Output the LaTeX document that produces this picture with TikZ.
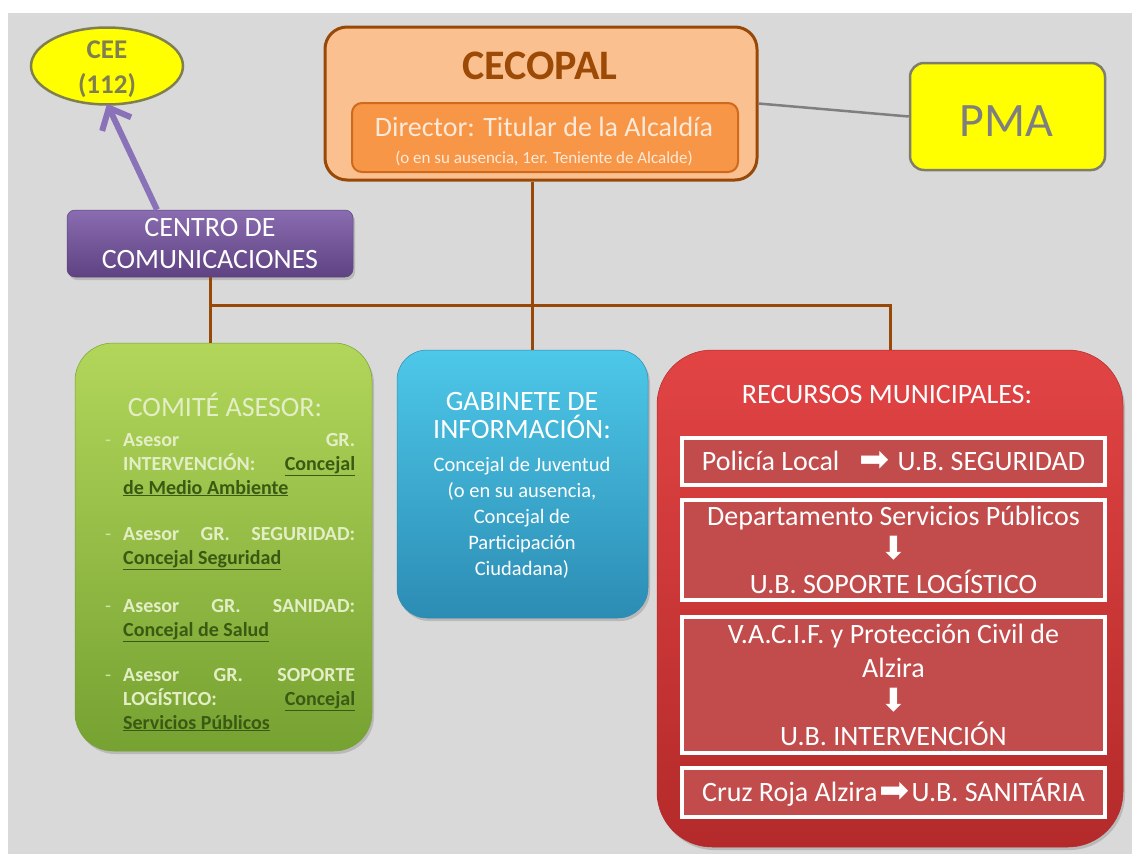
\documentclass[tikz,border=0pt]{standalone}
\usepackage{fontspec}
\setmainfont{Carlito}
\newfontfamily\dejavu{DejaVu Sans}
\usetikzlibrary{shadows,arrows.meta,shapes.geometric}
\newcommand\setfs[2]{\fontsize{#1}{#2}\selectfont}
\definecolor{bg}{HTML}{D9D9D9}
\definecolor{ceco}{HTML}{FAC090}
\definecolor{cecob}{HTML}{984807}
\definecolor{cecot}{HTML}{9C4A06}
\definecolor{dir}{HTML}{F79646}
\definecolor{dirb}{HTML}{CF6A1C}
\definecolor{dirt}{HTML}{FDE9D9}
\definecolor{ylw}{HTML}{FFFF00}
\definecolor{grayt}{HTML}{7F7F7F}
\definecolor{pmab}{HTML}{807E6A}
\definecolor{olive}{HTML}{7F7F50}
\definecolor{purpt}{HTML}{8A6CB0}
\definecolor{purpd}{HTML}{5E4282}
\definecolor{purpa}{HTML}{8A72B8}
\definecolor{gtop}{HTML}{B2D65A}
\definecolor{gbot}{HTML}{76A232}
\definecolor{gtext}{HTML}{E4EEC6}
\definecolor{gdash}{HTML}{D2E2A6}
\definecolor{gdark}{HTML}{3A5A14}
\definecolor{btop}{HTML}{4DC8E8}
\definecolor{bbot}{HTML}{2C8CB4}
\definecolor{rtop}{HTML}{E24444}
\definecolor{rbot}{HTML}{B42A2A}
\definecolor{rin}{HTML}{C24C4C}
\tikzset{
  shad/.style={drop shadow={opacity=0.35,shadow xshift=2pt,shadow yshift=-3pt}},
  conn/.style={draw=cecob,line width=3pt},
  greenitem/.style={anchor=base west,inner sep=0pt,text=gtext,font=\bfseries\setfs{20}{24}},
  gdashnode/.style={anchor=base west,inner sep=0pt,text=gdash,font=\setfs{20}{24}},
  inbox/.style={draw=white,line width=3.5pt,fill=rin,text=white,align=center,font=\setfs{28}{34},inner sep=0pt},
}
\newcommand\ul[1]{\textcolor{gdark}{\underline{#1}}}
\newcommand\rarr{\raisebox{-1pt}{\dejavu\fontsize{36}{36}\selectfont ➡}}
\newcommand\darr{{\dejavu\fontsize{32}{32}\selectfont ⬇}}
\begin{document}
\begin{tikzpicture}[x=1pt,y=-1pt]
\useasboundingbox (0,0) rectangle (1132,854);
\fill[white] (0,0) rectangle (1132,854);
\fill[bg] (8,13) rectangle (1132,854);

% CEE ellipse
\node[ellipse,draw=olive,line width=2.5pt,fill=ylw,minimum width=152pt,minimum height=77pt,inner sep=0pt] (cee) at (107,66) {};
\node[text=olive,align=center,font=\bfseries\setfs{27}{35},inner sep=0pt] (ceetxt) at (107,69) {CEE\\(112)};

% Centro de comunicaciones
\node[rounded corners=8pt,top color=purpt,bottom color=purpd,draw=purpd,line width=0.5pt,shad,
      minimum width=286pt,minimum height=67pt,inner sep=0pt,text=white,align=center,font=\setfs{28}{32}]
      (centro) at (210,243.5) {CENTRO DE\\COMUNICACIONES};
\draw[purpa,line width=6pt,-{Straight Barb[length=18pt,width=32pt,line width=6pt]}]
      ([xshift=-53pt]centro.north) -- ([yshift=2pt]cee.south);

% CECOPAL
\node[rounded corners=22pt,draw=cecob,line width=3pt,fill=ceco,minimum width=432pt,minimum height=153pt,inner sep=0pt]
      (cecopal) at (541,103.5) {};
\node[text=cecot,font=\bfseries\setfs{42}{46},inner sep=0pt] (cecotitle) at (540,66) {CECOPAL};
\node[rounded corners=10pt,draw=dirb,line width=2pt,fill=dir,minimum width=386pt,minimum height=69pt,inner sep=0pt]
      (director) at (545,137.5) {};
\node[text=dirt,font=\setfs{28}{32},inner sep=0pt] (dirtxt) at (544,127) {Director: Titular de la Alcaldía};
\node[text=dirt,font=\setfs{17}{20},inner sep=0pt] (dirsub) at (544,158) {(o en su ausencia, 1er. Teniente de Alcalde)};

% PMA
\node[rounded corners=14pt,draw=pmab,line width=2.5pt,fill=ylw,minimum width=195pt,minimum height=107pt,inner sep=0pt]
      (pma) at (1007.5,116.5) {};
\node[text=grayt,font=\setfs{48}{52},inner sep=0pt] (pmatxt) at (1006,121) {PMA};
\draw[grayt,line width=2.5pt] (cecopal.east) -- (pma.west);

% Comité asesor
\node[rounded corners=38pt,top color=gtop,bottom color=gbot,draw=gbot,line width=0.5pt,shad,
      minimum width=297pt,minimum height=408pt,inner sep=0pt] (comite) at (223.5,547) {};
\node[text=gtext,font=\setfs{28}{32},inner sep=0pt] (comtitle) at (225,405) {COMITÉ ASESOR:};
\node[gdashnode] (d1) at (105,446) {-};
\node[gdashnode] (d2) at (105,540) {-};
\node[gdashnode] (d3) at (105,612) {-};
\node[gdashnode] (d4) at (105,681) {-};
\node[greenitem] (i1) at (123,446) {\makebox[232pt][s]{Asesor GR.}};
\node[greenitem] (i2) at (123,470) {\makebox[232pt][s]{INTERVENCIÓN: \ul{Concejal}}};
\node[greenitem] (i3) at (123,494) {\ul{de Medio Ambiente}};
\node[greenitem] (i4) at (123,540) {\makebox[232pt][s]{Asesor GR. SEGURIDAD:}};
\node[greenitem] (i5) at (123,564) {\ul{Concejal Seguridad}};
\node[greenitem] (i6) at (123,612) {\makebox[232pt][s]{Asesor GR. SANIDAD:}};
\node[greenitem] (i7) at (123,636) {\ul{Concejal de Salud}};
\node[greenitem] (i8) at (123,681) {\makebox[232pt][s]{Asesor GR. SOPORTE}};
\node[greenitem] (i9) at (123,705) {\makebox[232pt][s]{LOGÍSTICO: \ul{Concejal}}};
\node[greenitem] (i10) at (123,729) {\ul{Servicios Públicos}};

% Gabinete
\node[rounded corners=30pt,top color=btop,bottom color=bbot,draw=bbot,line width=0.5pt,shad,
      minimum width=251pt,minimum height=268pt,inner sep=0pt] (gab) at (522.5,484) {};
\node[text=white,align=center,font=\setfs{28}{28},inner sep=0pt] (gabtitle) at (522,416) {GABINETE DE\\INFORMACIÓN:};
\node[text=white,align=center,font=\setfs{20.5}{26},inner sep=0pt] (gabtxt) at (522,518)
      {Concejal de Juventud\\(o en su ausencia,\\Concejal de\\Participación\\Ciudadana)};

% Recursos municipales
\node[rounded corners=55pt,top color=rtop,bottom color=rbot,draw=rbot,line width=0.5pt,shad,
      minimum width=466pt,minimum height=497pt,inner sep=0pt] (red) at (890,598.5) {};
\node[text=white,font=\setfs{28}{32},inner sep=0pt] (redtitle) at (887,395) {RECURSOS MUNICIPALES:};
\node[inbox,minimum width=423pt,minimum height=47pt] (r1) at (893.5,461.5)
      {Policía Local\hspace{20pt}\rarr\hspace{8pt}U.B. SEGURIDAD};
\node[inbox,minimum width=423pt,minimum height=100pt] (r2) at (893.5,550)
      {Departamento Servicios Públicos\\\darr\\U.B. SOPORTE LOGÍSTICO};
\node[inbox,minimum width=423pt,minimum height=136pt] (r3) at (893.5,685)
      {V.A.C.I.F. y Protección Civil de\\Alzira\\\darr\\U.B. INTERVENCIÓN};
\node[inbox,minimum width=423pt,minimum height=49pt] (r4) at (893.5,792.5)
      {Cruz Roja Alzira\hspace{2pt}\rarr\hspace{2pt}U.B. SANITÁRIA};

% Connectors
\coordinate (j) at (532,305);
\draw[conn] (centro.south) -- (centro.south |- comite.north);
\draw[conn] (cecopal.south -| j) -- (j |- gab.north);
\draw[conn] (centro.south |- j) -- (red.north |- j) -- (red.north);
\end{tikzpicture}
\end{document}
